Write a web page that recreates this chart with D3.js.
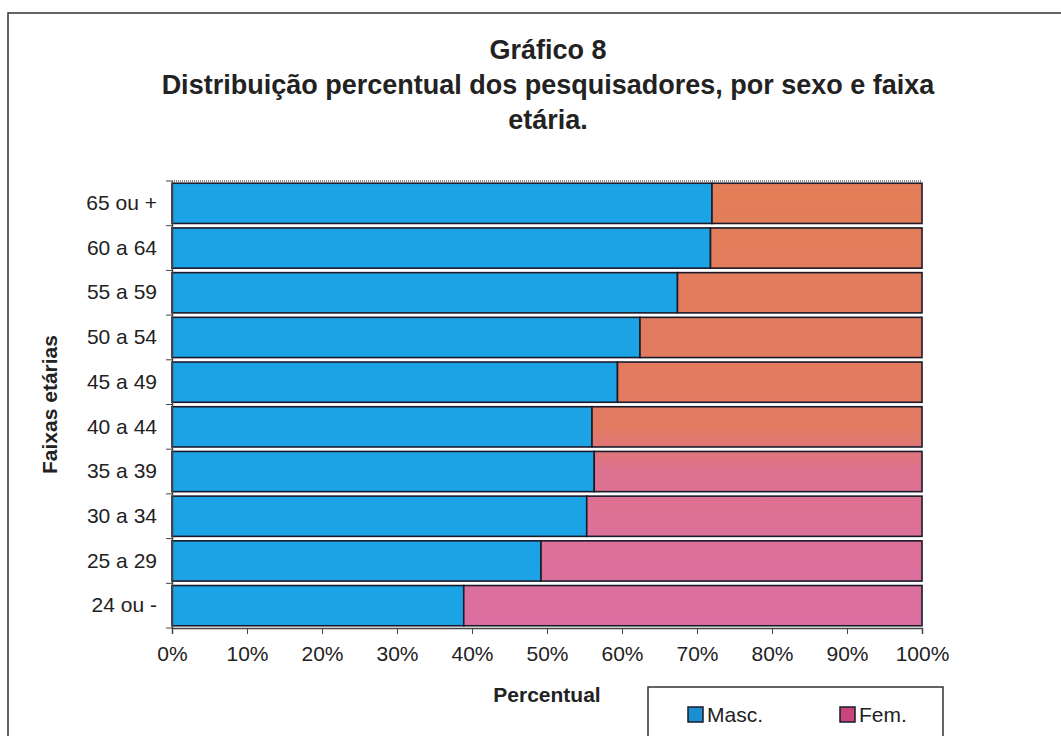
<!DOCTYPE html>
<meta charset="utf-8">
<style>
body { margin: 0; background: #fff; }
text { font-family: "Liberation Sans", Arial, sans-serif; fill: #222; }
.title { font-weight: bold; font-size: 27px; }
.axis text { font-size: 21px; }
.axis-title { font-weight: bold; font-size: 21px; }
</style>
<body>
<script src="https://d3js.org/d3.v7.min.js"></script>
<script>

// age groups, top to bottom
var faixas = ["65 ou +", "60 a 64", "55 a 59", "50 a 54", "45 a 49",
              "40 a 44", "35 a 39", "30 a 34", "25 a 29", "24 ou -"];
// percent of researchers
var masc = [72.0, 71.8, 67.4, 62.4, 59.4, 56.0, 56.3, 55.3, 49.2, 38.9];
var fem  = [28.0, 28.2, 32.6, 37.6, 40.6, 44.0, 43.7, 44.7, 50.8, 61.1];
var series = ["Masc.", "Fem."];
var xTicks = [0, 10, 20, 30, 40, 50, 60, 70, 80, 90, 100];

var W = 1061, H = 736;
var margin = {top: 181, right: 139, bottom: 108, left: 172},
    width = W - margin.left - margin.right,
    height = H - margin.top - margin.bottom;

var svg = d3.select("body").append("svg")
    .attr("width", W)
    .attr("height", H);

// frame of the page
svg.append("path")
    .attr("d", "M8," + H + "V13H" + W)
    .attr("fill", "none")
    .attr("stroke", "#333")
    .attr("stroke-width", 1.5);

// title
var titleLines = ["Gráfico 8",
  "Distribuição percentual dos pesquisadores, por sexo e faixa",
  "etária."];
svg.append("g").selectAll("text")
  .data(titleLines)
  .enter().append("text")
    .attr("class", "title")
    .attr("x", 548)
    .attr("y", function(d, i) { return 59 + i * 35; })
    .attr("text-anchor", "middle")
    .text(function(d) { return d; });

// fem fill drifts from salmon to pink in the scan
var defs = svg.append("defs");
var grad = defs.append("linearGradient")
    .attr("id", "femGrad")
    .attr("gradientUnits", "userSpaceOnUse")
    .attr("x1", 0).attr("y1", 0).attr("x2", 0).attr("y2", height);
grad.append("stop").attr("offset", "0").attr("stop-color", "#e37e58");
grad.append("stop").attr("offset", "0.55").attr("stop-color", "#e27a62");
grad.append("stop").attr("offset", "0.65").attr("stop-color", "#dd7290");
grad.append("stop").attr("offset", "1").attr("stop-color", "#db6fa2");

var g = svg.append("g")
    .attr("transform", "translate(" + margin.left + "," + margin.top + ")");

var x = d3.scaleLinear().domain([0, 100]).range([0, width]);
var y = d3.scaleBand().domain(faixas).range([0, height]).paddingInner(0.1).paddingOuter(0.05);

var color = {"Masc.": "#1ba3e6", "Fem.": "url(#femGrad)"};

var rows = faixas.map(function(f, i) { return {faixa: f, "Masc.": masc[i], "Fem.": fem[i]}; });
var stacked = d3.stack().keys(series)(rows);

// plot top border, dotted grey
g.append("line")
    .attr("x1", 0).attr("x2", width)
    .attr("y1", 0).attr("y2", 0)
    .attr("stroke", "#888")
    .attr("stroke-width", 2)
    .attr("stroke-dasharray", "1,1");

g.selectAll(".serie")
  .data(stacked)
  .enter().append("g")
    .attr("class", "serie")
    .attr("fill", function(d) { return color[d.key]; })
  .selectAll("rect")
  .data(function(d) { return d; })
  .enter().append("rect")
    .attr("x", function(d) { return x(d[0]); })
    .attr("y", function(d) { return y(d.data.faixa); })
    .attr("width", function(d) { return x(d[1]) - x(d[0]); })
    .attr("height", y.bandwidth())
    .attr("stroke", "#1a1a2a")
    .attr("stroke-width", 1.6);

// x axis
var xAxis = g.append("g")
    .attr("class", "axis")
    .attr("transform", "translate(0," + height + ")")
    .call(d3.axisBottom(x).tickValues(xTicks).tickSize(6).tickPadding(12)
      .tickFormat(function(d) { return d + "%"; }));
xAxis.select(".domain").attr("stroke", "#444").attr("stroke-width", 1.5);
xAxis.selectAll(".tick line").attr("stroke", "#444");

// y axis: labels centred on bands, ticks between bands
var yAxis = g.append("g")
    .attr("class", "axis")
    .call(d3.axisLeft(y).tickSize(0).tickPadding(15));
yAxis.select(".domain").attr("stroke", "#444").attr("stroke-width", 1.5);
var step = y.step();
var edges = d3.range(faixas.length + 1).map(function(i) { return i * height / faixas.length; });
yAxis.selectAll(".edge")
  .data(edges)
  .enter().append("line")
    .attr("class", "edge")
    .attr("x1", -6).attr("x2", 0)
    .attr("y1", function(d) { return d; })
    .attr("y2", function(d) { return d; })
    .attr("stroke", "#444");

// axis titles
svg.append("text")
    .attr("class", "axis-title")
    .attr("transform", "translate(57," + (margin.top + height / 2) + ") rotate(-90)")
    .attr("text-anchor", "middle")
    .text("Faixas etárias");

svg.append("text")
    .attr("class", "axis-title")
    .attr("x", margin.left + width / 2)
    .attr("y", 702)
    .attr("text-anchor", "middle")
    .text("Percentual");

// legend
var legend = svg.append("g").attr("transform", "translate(648,687)");
legend.append("rect")
    .attr("width", 295).attr("height", 60)
    .attr("fill", "#fff")
    .attr("stroke", "#333")
    .attr("stroke-width", 1.5);
var legendColor = {"Masc.": "#1b8fd0", "Fem.": "#c9457e"};
var item = legend.selectAll(".item")
  .data(series)
  .enter().append("g")
    .attr("class", "item")
    .attr("transform", function(d, i) { return "translate(" + (40 + i * 152) + ",20)"; });
item.append("rect")
    .attr("width", 15).attr("height", 15)
    .attr("fill", function(d) { return legendColor[d]; })
    .attr("stroke", "#1a1a2a")
    .attr("stroke-width", 1.5);
item.append("text")
    .attr("x", 19)
    .attr("y", 15)
    .style("font-size", "21px")
    .text(function(d) { return d; });

</script>
</body>
